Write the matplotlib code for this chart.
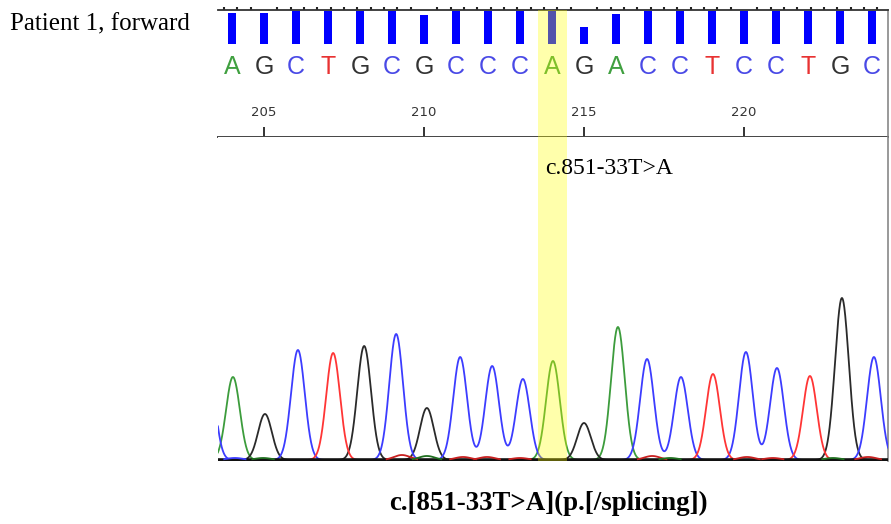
#!/usr/bin/env python3
"""Sanger trace for patient 1 (forward read) around the c.851-33T>A variant."""
import numpy as np
import matplotlib
matplotlib.use("Agg")
import matplotlib.pyplot as plt
from matplotlib.ticker import MultipleLocator, FixedLocator

# --- base calls + quality bars (one per called base) ---
positions = list(range(204, 225))
bases = list("AGCTGCGCCCAGACCTCCTGC")
quality = [31, 31, 33, 33, 33, 33, 29, 33, 33, 33, 33, 17, 30,
           33, 33, 33, 33, 33, 33, 33, 33]
ruler_ticks = [205, 210, 215, 220]
variant_pos = 214
variant_label = "c.851-33T>A"

# --- main trace peaks: channel, centre (base units), height ---
peak_channel = ["C", "A", "G", "C", "T", "G", "C", "G", "C", "C", "C",
                "A", "G", "A", "C", "C", "T", "C", "C", "T", "G", "C"]
peak_pos = [203.25, 204.03, 205.03, 206.06, 207.16, 208.13, 209.13, 210.09,
            211.13, 212.13, 213.09, 214.03, 215.0, 216.06, 216.97, 218.03,
            219.03, 220.06, 221.03, 222.06, 223.06, 224.06]
peak_height = [95, 83, 46, 110, 107, 114, 126, 52, 103, 94, 81,
               99, 37, 133, 101, 83, 86, 108, 92, 84, 162, 103]

# small background peaks near the baseline
noise_channel = ["C", "A", "T", "A", "T", "T", "T", "T", "A", "T", "T", "A", "T"]
noise_pos = [204.09, 204.97, 209.31, 210.09, 211.22, 211.97, 213.0,
             217.13, 217.69, 220.09, 220.9, 222.78, 223.88]
noise_height = [2, 2, 5, 4, 3, 3, 2, 4, 2, 3, 2, 2, 3]

trace_colors = {"A": "#3c9c3c", "G": "#2a2a2a", "C": "#3c3cff", "T": "#ff3535"}
letter_colors = {"A": "#40a040", "G": "#333333", "C": "#4a4ae6", "T": "#e83232"}
noise_colors = {"A": "#1f6f1f", "C": "#3c3cff", "T": "#c82020"}

W, H = 891, 524
X0, X1 = 218, 888          # panel edges, px
TOP, RULER, BASE = 10, 137, 461


def px2base(x):
    return 205 + (x - 264) / 32.0


def main() -> None:
    plt.rcParams["font.family"] = ["Liberation Serif", "DejaVu Serif"]
    fig = plt.figure(figsize=(W / 100, H / 100), dpi=100)

    axT = fig.add_axes([X0 / W, 1 - RULER / H, (X1 - X0) / W, (RULER - TOP) / H])
    axB = fig.add_axes([X0 / W, 1 - BASE / H, (X1 - X0) / W, (BASE - RULER) / H])
    xlim = (px2base(X0), px2base(X1))

    # --- top panel: quality bars, base letters, ruler ---
    axT.bar(positions, [-q for q in quality], bottom=34, width=0.22,
            color="#0000ff", zorder=2)
    for p, b in zip(positions, bases):
        axT.text(p, 57, b, ha="center", va="center", fontsize=18,
                 family="Liberation Sans", color=letter_colors[b], zorder=3)
    for t in ruler_ticks:
        axT.text(t, 102, str(t), ha="center", va="center", fontsize=9.5,
                 family="DejaVu Sans", color="#333333")
    axT.set_xlim(*xlim)
    axT.set_ylim(127, 0)
    axT.xaxis.set_major_locator(FixedLocator(ruler_ticks))
    axT.xaxis.set_minor_locator(MultipleLocator(5 / 12))
    axT.tick_params(axis="x", which="major", direction="in", length=7, width=1.4,
                    color="#333333", top=False, bottom=True, labelbottom=False)
    axT.tick_params(axis="x", which="minor", direction="out", length=2.5, width=1.5,
                    color="#222222", top=True, bottom=False)
    axT.set_yticks([])
    axT.spines["left"].set_visible(False)
    axT.spines["top"].set_color("#333333"); axT.spines["top"].set_linewidth(1.3)
    axT.spines["bottom"].set_color("#444444"); axT.spines["bottom"].set_linewidth(1.4)
    axT.spines["right"].set_color("#888888"); axT.spines["right"].set_linewidth(1.2)

    # --- bottom panel: chromatogram ---
    xs = np.linspace(xlim[0] - 0.5, xlim[1] + 0.5, 3000)
    sig = 0.215
    for ch in "AGCT":
        y = np.zeros_like(xs)
        for c, p, h in zip(peak_channel, peak_pos, peak_height):
            if c == ch:
                y += h * np.exp(-0.5 * ((xs - p) / sig) ** 2)
        axB.plot(xs, y, color=trace_colors[ch], lw=1.3, zorder=3)
    # thick black baseline drawn over the flat parts of the traces
    axB.axhline(0, color="#111111", lw=2.6, zorder=4)
    for c, p, h in zip(noise_channel, noise_pos, noise_height):
        y = h * np.exp(-0.5 * ((xs - p) / 0.25) ** 2)
        m = y > 0.8
        axB.plot(xs[m], y[m], color=noise_colors[c], lw=1.3, zorder=5)
    axB.set_xlim(*xlim)
    axB.set_ylim(-1, 323)
    axB.set_xticks([]); axB.set_yticks([])
    for s in ("left", "top", "bottom"):
        axB.spines[s].set_visible(False)
    axB.spines["right"].set_color("#888888"); axB.spines["right"].set_linewidth(1.2)

    # highlight of the variant base across both panels
    for ax in (axT, axB):
        ax.axvspan(variant_pos - 0.44, variant_pos + 0.47, color="#ffff00",
                   alpha=0.33, lw=0, zorder=6)

    # --- labels ---
    fig.text(10 / W, 1 - 24 / H, "Patient 1, forward", fontsize=18,
             ha="left", va="center")
    fig.text(609 / W, 1 - 169 / H, variant_label, fontsize=17,
             ha="center", va="center")
    fig.text(548 / W, 1 - 503 / H, "c.[851-33T>A](p.[/splicing])", fontsize=19.4,
             fontweight="bold", ha="center", va="center")

    fig.savefig("out.png", dpi=100)


if __name__ == "__main__":
    main()
